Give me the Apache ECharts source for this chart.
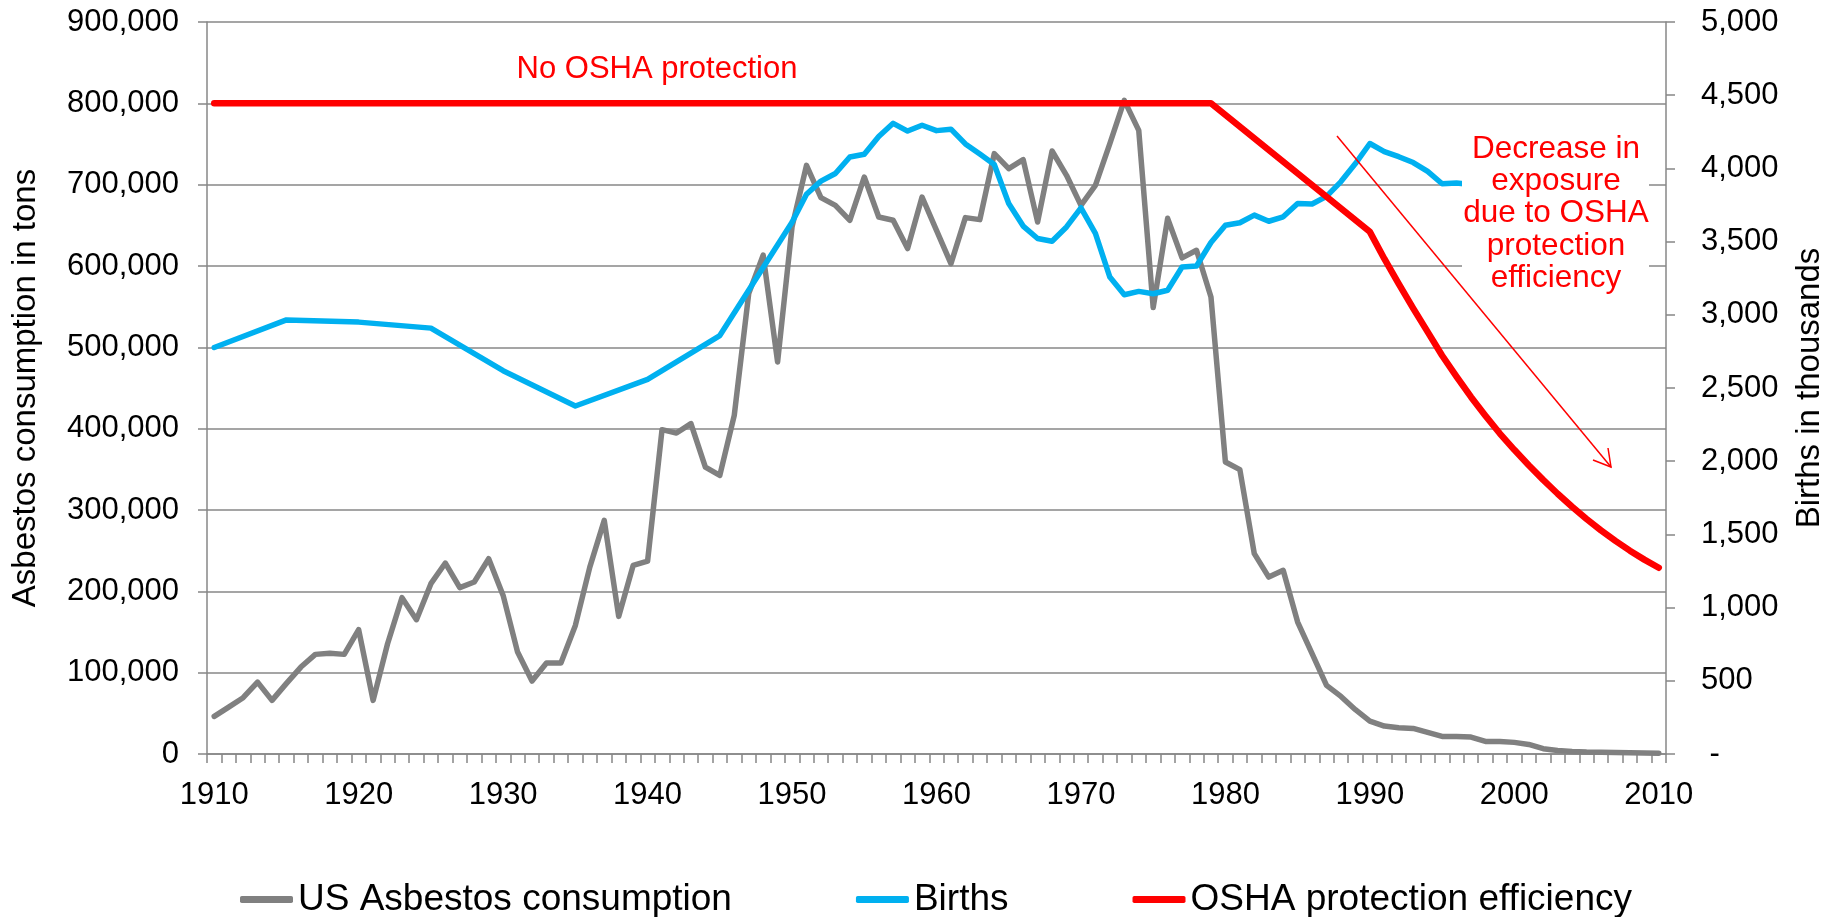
<!DOCTYPE html>
<html>
<head>
<meta charset="utf-8">
<title>US asbestos consumption, births and OSHA protection</title>
<script src="https://cdn.jsdelivr.net/npm/echarts@6/dist/echarts.min.js"></script>
<style>
  html, body { margin: 0; padding: 0; background: #fff; }
  #chart { width: 1837px; height: 917px; }
</style>
</head>
<body>
<div id="chart"></div>
<script>
// x categories: every year 1910..2010
const firstYear = 1910
const lastYear = 2010
const years = []
for (let y = firstYear; y <= lastYear; y++) years.push(String(y))

// US asbestos consumption in tons, one value per year 1910..2010
const asbestos = [
  46200, 57700, 69200, 88400, 65900, 86800, 106900, 122500, 124000, 122500,   // 1910-1919
  152800, 65900, 135600, 192200, 165100, 209400, 234800, 204500, 211400, 240100, // 1920s
  195000, 125300, 89700, 111800, 111800, 158100, 229800, 287300, 169200, 231900, // 1930s
  237200, 398800, 394600, 406200, 352800, 342600, 416400, 566000, 613300, 482000, // 1940s
  648000, 723800, 684000, 674600, 656200, 709400, 660200, 656200, 621400, 684800, // 1950s
  643900, 602900, 659500, 657000, 738200, 719700, 730800, 654100, 741400, 711500, // 1960s
  674600, 699200, 750500, 803700, 766800, 549000, 658600, 610000, 619300, 561900, // 1970s
  359000, 349600, 246300, 217500, 225800, 162200, 123300, 84400, 70800, 54500,   // 1980s
  40500, 34300, 32300, 31500, 26600, 21600, 21600, 20800, 15500, 15500,          // 1990s
  14300, 11800, 6500, 4400, 3200, 2400, 2000, 1700, 1500, 1200,                  // 2000s
  1000                                                                           // 2010
]

// births in thousands (5-year points before 1950, yearly after)
const birthYears = [1910, 1915, 1920, 1925, 1930, 1935, 1940, 1945,
  1950, 1951, 1952, 1953, 1954, 1955, 1956, 1957, 1958, 1959,
  1960, 1961, 1962, 1963, 1964, 1965, 1966, 1967, 1968, 1969,
  1970, 1971, 1972, 1973, 1974, 1975, 1976, 1977, 1978, 1979,
  1980, 1981, 1982, 1983, 1984, 1985, 1986, 1987, 1988, 1989,
  1990, 1991, 1992, 1993, 1994, 1995, 1996, 1997]
const births = [2777, 2965, 2950, 2909, 2618, 2377, 2559, 2858,
  3632, 3823, 3913, 3965, 4078, 4097, 4218, 4308, 4255, 4295,
  4258, 4268, 4167, 4098, 4027, 3760, 3606, 3521, 3502, 3600,
  3731, 3556, 3258, 3137, 3160, 3144, 3168, 3327, 3333, 3494,
  3612, 3629, 3681, 3639, 3669, 3761, 3757, 3809, 3910, 4033,
  4170, 4115, 4080, 4040, 3980, 3895, 3900, 3890]

// OSHA protection efficiency (drawn on the left axis)
const oshaYears = [1910, 1979, 1990, 1991, 1992, 1993, 1994, 1995, 1996, 1997, 1998, 1999,
  2000, 2001, 2002, 2003, 2004, 2005, 2006, 2007, 2008, 2009, 2010]
const osha = [800000, 800000, 642000, 609000, 578000, 548000, 519000, 490000, 464000, 439000, 416000, 394000,
  374000, 355000, 337000, 320000, 304000, 289000, 275000, 262000, 250000, 239000, 229000]

// spread sparse points onto the yearly category axis
function onYears(ys, vals) {
  const out = years.map(() => null)
  ys.forEach((y, i) => { out[y - firstYear] = vals[i] })
  return out
}

const FONT = '"Liberation Sans", Arial, sans-serif'
const GRID_GREY = '#878787'

const chart = echarts.init(document.getElementById('chart'))

const option = {
  backgroundColor: '#fff',
  animation: false,
  textStyle: { fontFamily: FONT },
  grid: { left: 207, right: 171, top: 22, bottom: 163 },
  legend: {
    left: 240,
    top: 881,
    padding: 0,
    icon: 'roundRect',
    itemWidth: 53,
    itemHeight: 7,
    itemGap: 124,
    textStyle: { fontSize: 37, color: '#000', fontFamily: FONT },
    data: ['US Asbestos consumption', 'Births', 'OSHA protection efficiency']
  },
  xAxis: {
    type: 'category',
    data: years,
    boundaryGap: true,
    axisLine: { lineStyle: { color: GRID_GREY, width: 1.5 } },
    axisTick: { show: true, interval: 0, length: 9, lineStyle: { color: GRID_GREY, width: 1.5 } },
    axisLabel: { interval: 9, fontSize: 31, color: '#000', margin: 26 },
    splitLine: { show: false }
  },
  yAxis: [{
    type: 'value',
    min: 0,
    max: 900000,
    interval: 100000,
    name: 'Asbestos consumption in tons',
    nameLocation: 'middle',
    nameRotate: 90,
    nameGap: 165,
    nameTextStyle: { fontSize: 33, color: '#000' },
    axisLine: { show: true, lineStyle: { color: GRID_GREY, width: 1.5 } },
    axisTick: { show: true, length: 9, lineStyle: { color: GRID_GREY, width: 1.5 } },
    axisLabel: {
      fontSize: 31, color: '#000', margin: 28,
      formatter: v => v.toLocaleString('en-US')
    },
    splitLine: { show: true, lineStyle: { color: GRID_GREY, width: 1.5 } }
  }, {
    type: 'value',
    position: 'right',
    min: 0,
    max: 5000,
    interval: 500,
    name: 'Births in thousands',
    nameLocation: 'middle',
    nameRotate: 90,
    nameGap: 127,
    nameTextStyle: { fontSize: 33, color: '#000' },
    axisLine: { show: true, lineStyle: { color: GRID_GREY, width: 1.5 } },
    axisTick: { show: true, length: 9, lineStyle: { color: GRID_GREY, width: 1.5 } },
    axisLabel: {
      fontSize: 31, color: '#000', margin: 35,
      formatter: v => (v === 0 ? ' -' : v.toLocaleString('en-US'))
    },
    splitLine: { show: false }
  }],
  series: [{
    name: 'US Asbestos consumption',
    type: 'line',
    yAxisIndex: 0,
    data: asbestos,
    symbol: 'none',
    color: '#808080',
    lineStyle: { color: '#808080', width: 5.5, join: 'round', cap: 'round' },
    z: 2
  }, {
    name: 'Births',
    type: 'line',
    yAxisIndex: 1,
    data: onYears(birthYears, births),
    connectNulls: true,
    symbol: 'none',
    color: '#00B0F0',
    lineStyle: { color: '#00B0F0', width: 5.5, join: 'round', cap: 'round' },
    z: 3
  }, {
    name: 'OSHA protection efficiency',
    type: 'line',
    yAxisIndex: 0,
    data: onYears(oshaYears, osha),
    connectNulls: true,
    symbol: 'none',
    color: '#FF0000',
    lineStyle: { color: '#FF0000', width: 6.5, join: 'round', cap: 'round' },
    z: 4
  }],
  graphic: [
    {
      type: 'text', x: 657, y: 69, z: 100,
      style: {
        text: 'No OSHA protection', fill: '#FF0000',
        font: '31px ' + FONT,
        align: 'center', verticalAlign: 'middle',
        textAlign: 'center', textVerticalAlign: 'middle'
      }
    },
    {
      // white box behind the right-hand note
      type: 'rect', z: 100,
      shape: { x: 1462, y: 128, width: 187, height: 172 },
      style: { fill: '#fff' }
    },
    {
      type: 'text', x: 1556, y: 133, z: 101,
      style: {
        text: 'Decrease in\nexposure\ndue to OSHA\nprotection\nefficiency',
        fill: '#FF0000',
        font: '31.5px ' + FONT,
        lineHeight: 32.3,
        align: 'center', verticalAlign: 'top',
        textAlign: 'center', textVerticalAlign: 'top'
      }
    },
    {
      type: 'line', z: 101,
      shape: { x1: 1337, y1: 136, x2: 1611, y2: 467 },
      style: { stroke: '#FF0000', lineWidth: 1.5 }
    },
    {
      type: 'polyline', z: 101,
      shape: { points: [[1593, 460], [1611, 467], [1608, 448]] },
      style: { stroke: '#FF0000', lineWidth: 1.5, fill: null }
    }
  ]
}

chart.setOption(option)
window.addEventListener('resize', () => chart.resize())
</script>
</body>
</html>
